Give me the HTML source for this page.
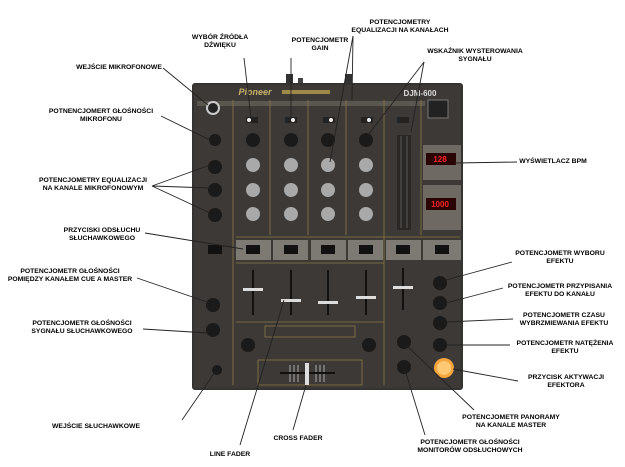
<!DOCTYPE html>
<html><head><meta charset="utf-8"><style>
html,body{margin:0;padding:0;background:#fff;width:625px;height:467px;overflow:hidden}
svg text{font-family:"Liberation Sans",sans-serif;font-weight:bold;font-size:6.8px;fill:#000;text-anchor:middle}
</style></head><body>
<svg width="625" height="467" viewBox="0 0 625 467" xmlns="http://www.w3.org/2000/svg">
<rect x="286" y="74" width="7" height="12" fill="#333"/><rect x="345" y="74" width="7" height="12" fill="#333"/><rect x="298" y="78" width="5" height="8" fill="#444"/>
<rect x="192" y="83" width="271" height="307" rx="3" fill="#353331"/>
<rect x="194" y="85" width="267" height="303" fill="#3c3936"/>
<text x="255" y="95" style="font-size:9px;fill:#c9b26a;font-style:italic">Pioneer</text>
<rect x="282" y="90" width="48" height="4" fill="#a08a4a"/>
<text x="420" y="96" style="font-size:8px;fill:#ddd">DJM-600</text>
<rect x="428" y="100" width="20" height="18" fill="#222" stroke="#777"/>
<rect x="197" y="101" width="228" height="5" fill="#5a5650"/>
<circle cx="213" cy="108" r="7" fill="#ccc"/><circle cx="213" cy="108" r="5" fill="#222"/>
<g fill="none" stroke="#8c7a45" stroke-width="0.8">
<line x1="233" y1="100" x2="233" y2="385"/><line x1="270" y1="100" x2="270" y2="235"/><line x1="308" y1="100" x2="308" y2="235"/><line x1="346" y1="100" x2="346" y2="235"/><line x1="384" y1="100" x2="384" y2="385"/><line x1="421" y1="100" x2="421" y2="235"/>
<line x1="236" y1="237" x2="460" y2="237"/><line x1="236" y1="263" x2="384" y2="263"/><line x1="236" y1="322" x2="384" y2="322"/>
</g>
<g fill="#222"><rect x="246" y="117" width="12" height="6"/><rect x="285" y="117" width="12" height="6"/><rect x="323" y="117" width="12" height="6"/><rect x="361" y="117" width="12" height="6"/><rect x="397" y="117" width="12" height="6"/></g>
<g fill="#eee"><circle cx="249" cy="120" r="2"/><circle cx="293" cy="120" r="2"/><circle cx="331" cy="120" r="2"/><circle cx="369" cy="120" r="2"/></g>
<g fill="#1a1a1a">
<circle cx="253" cy="140" r="7"/><circle cx="291" cy="140" r="7"/><circle cx="328" cy="140" r="7"/><circle cx="366" cy="140" r="7"/>
<circle cx="215" cy="140" r="6"/><circle cx="215" cy="167" r="7"/><circle cx="215" cy="190" r="7"/><circle cx="215" cy="215" r="7"/>
</g>
<g fill="#a9a9a9">
<circle cx="253" cy="165" r="7"/><circle cx="291" cy="165" r="7"/><circle cx="328" cy="165" r="7"/><circle cx="366" cy="165" r="7"/>
<circle cx="253" cy="190" r="7"/><circle cx="291" cy="190" r="7"/><circle cx="328" cy="190" r="7"/><circle cx="366" cy="190" r="7"/>
<circle cx="253" cy="214" r="7"/><circle cx="291" cy="214" r="7"/><circle cx="328" cy="214" r="7"/><circle cx="366" cy="214" r="7"/>
</g>
<rect x="397" y="135" width="14" height="95" fill="#2a2826"/>
<g stroke="#888" stroke-width="0.5"><line x1="401" y1="136" x2="401" y2="228"/><line x1="407" y1="136" x2="407" y2="228"/></g>
<rect x="423" y="145" width="38" height="35" fill="#6e6a63"/>
<rect x="426" y="153" width="30" height="12" fill="#2a0505"/><text x="440" y="162" style="font-size:8px;fill:#f22">128</text>
<rect x="423" y="185" width="38" height="45" fill="#6e6a63"/>
<rect x="426" y="198" width="30" height="12" fill="#2a0505"/><text x="440" y="207" style="font-size:8px;fill:#f22">1000</text>
<g fill="#7d7a74"><rect x="236" y="240" width="35" height="20"/><rect x="273" y="240" width="35" height="20"/><rect x="311" y="240" width="35" height="20"/><rect x="348" y="240" width="35" height="20"/><rect x="386" y="240" width="35" height="20"/><rect x="423" y="240" width="38" height="20"/></g>
<g fill="#111"><rect x="246" y="245" width="14" height="9"/><rect x="284" y="245" width="14" height="9"/><rect x="321" y="245" width="14" height="9"/><rect x="359" y="245" width="14" height="9"/><rect x="396" y="245" width="14" height="9"/><rect x="435" y="245" width="14" height="9"/><rect x="208" y="245" width="14" height="9"/></g>
<g stroke="#111" stroke-width="2"><line x1="253" y1="270" x2="253" y2="315"/><line x1="291" y1="270" x2="291" y2="315"/><line x1="328" y1="270" x2="328" y2="315"/><line x1="366" y1="270" x2="366" y2="315"/><line x1="403" y1="268" x2="403" y2="310"/></g>
<g fill="#ddd"><rect x="243" y="288" width="20" height="3"/><rect x="281" y="299" width="20" height="3"/><rect x="318" y="301" width="20" height="3"/><rect x="356" y="296" width="20" height="3"/><rect x="393" y="286" width="20" height="3"/></g>
<g fill="#1a1a1a"><circle cx="213" cy="305" r="7"/><circle cx="213" cy="330" r="7"/><circle cx="248" cy="345" r="7"/><circle cx="369" cy="345" r="7"/><circle cx="404" cy="342" r="7"/><circle cx="404" cy="367" r="7"/>
<circle cx="440" cy="283" r="7"/><circle cx="440" cy="303" r="7"/><circle cx="440" cy="323" r="7"/><circle cx="440" cy="345" r="7"/><circle cx="217" cy="370" r="5"/></g>
<rect x="265" y="326" width="90" height="11" fill="none" stroke="#8c7a45" stroke-width="0.8"/>
<rect x="258" y="360" width="104" height="25" fill="none" stroke="#8c7a45" stroke-width="0.8"/>
<g stroke="#aaa" stroke-width="1"><line x1="290" y1="365" x2="290" y2="382"/><line x1="294" y1="365" x2="294" y2="382"/><line x1="298" y1="365" x2="298" y2="382"/><line x1="316" y1="365" x2="316" y2="382"/><line x1="320" y1="365" x2="320" y2="382"/><line x1="324" y1="365" x2="324" y2="382"/></g>
<rect x="280" y="372" width="55" height="2" fill="#111"/><rect x="305" y="363" width="4" height="22" fill="#ddd"/>
<circle cx="444" cy="368" r="10" fill="#f5a53c"/><circle cx="444" cy="368" r="7" fill="#ffc873"/>
<g stroke="#222" stroke-width="0.9" fill="none">
<line x1="244" y1="58" x2="251" y2="118"/>
<line x1="291" y1="58" x2="291" y2="118"/>
<line x1="353" y1="36" x2="330" y2="162"/><line x1="353" y1="36" x2="352" y2="100"/>
<line x1="424" y1="62" x2="368" y2="135"/><line x1="424" y1="62" x2="411" y2="132"/>
<line x1="163" y1="68" x2="208" y2="105"/>
<line x1="161" y1="116" x2="210" y2="140"/>
<line x1="152" y1="186" x2="210" y2="165"/><line x1="152" y1="186" x2="210" y2="188"/><line x1="152" y1="186" x2="210" y2="213"/>
<line x1="145" y1="233" x2="243" y2="249"/>
<line x1="137" y1="278" x2="210" y2="303"/>
<line x1="143" y1="329" x2="208" y2="333"/>
<line x1="182" y1="420" x2="215" y2="372"/>
<line x1="240" y1="445" x2="284" y2="300"/>
<line x1="293" y1="430" x2="306" y2="385"/>
<line x1="425" y1="435" x2="405" y2="370"/>
<line x1="474" y1="410" x2="406" y2="345"/>
<line x1="518" y1="381" x2="453" y2="369"/>
<line x1="510" y1="345" x2="446" y2="345"/>
<line x1="513" y1="319" x2="446" y2="322"/>
<line x1="503" y1="288" x2="446" y2="303"/>
<line x1="512" y1="262" x2="446" y2="280"/>
<line x1="517" y1="162" x2="455" y2="163"/>
</g>
<text x="220" y="39">WYBÓR ŹRÓDŁA</text><text x="220" y="47">DŹWIĘKU</text>
<text x="320" y="42">POTENCJOMETR</text><text x="320" y="50">GAIN</text>
<text x="400" y="24">POTENCJOMETRY</text><text x="400" y="32">EQUALIZACJI NA KANAŁACH</text>
<text x="475" y="53">WSKAŹNIK WYSTEROWANIA</text><text x="475" y="61">SYGNAŁU</text>
<text x="119" y="69">WEJŚCIE MIKROFONOWE</text>
<text x="101" y="113">POTNENCJOMERT GŁOŚNOŚCI</text><text x="101" y="121">MIKROFONU</text>
<text x="93" y="182">POTENCJOMETRY EQUALIZACJI</text><text x="93" y="190">NA KANALE MIKROFONOWYM</text>
<text x="102" y="232">PRZYCISKI ODSŁUCHU</text><text x="102" y="240">SŁUCHAWKOWEGO</text>
<text x="70" y="273">POTENCJOMETR GŁOŚNOŚCI</text><text x="70" y="281">POMIĘDZY KANAŁEM CUE A MASTER</text>
<text x="82" y="325">POTENCJOMETR GŁOŚNOŚCI</text><text x="82" y="333">SYGNAŁU SŁUCHAWKOWEGO</text>
<text x="96" y="428">WEJŚCIE SŁUCHAWKOWE</text>
<text x="230" y="456">LINE FADER</text>
<text x="298" y="440">CROSS FADER</text>
<text x="470" y="444">POTENCJOMETR GŁOŚNOŚCI</text><text x="470" y="452">MONITORÓW ODSŁUCHOWYCH</text>
<text x="511" y="419">POTENCJOMETR PANORAMY</text><text x="511" y="427">NA KANALE MASTER</text>
<text x="566" y="379">PRZYCISK AKTYWACJI</text><text x="566" y="387">EFEKTORA</text>
<text x="565" y="345">POTENCJOMETR NATĘŻENIA</text><text x="565" y="353">EFEKTU</text>
<text x="564" y="317">POTENCJOMETR CZASU</text><text x="564" y="325">WYBRZMIEWANIA EFEKTU</text>
<text x="560" y="288">POTENCJOMETR PRZYPISANIA</text><text x="560" y="296">EFEKTU DO KANAŁU</text>
<text x="560" y="255">POTENCJOMETR WYBORU</text><text x="560" y="263">EFEKTU</text>
<text x="553" y="163">WYŚWIETLACZ BPM</text>
</svg>
</body></html>
